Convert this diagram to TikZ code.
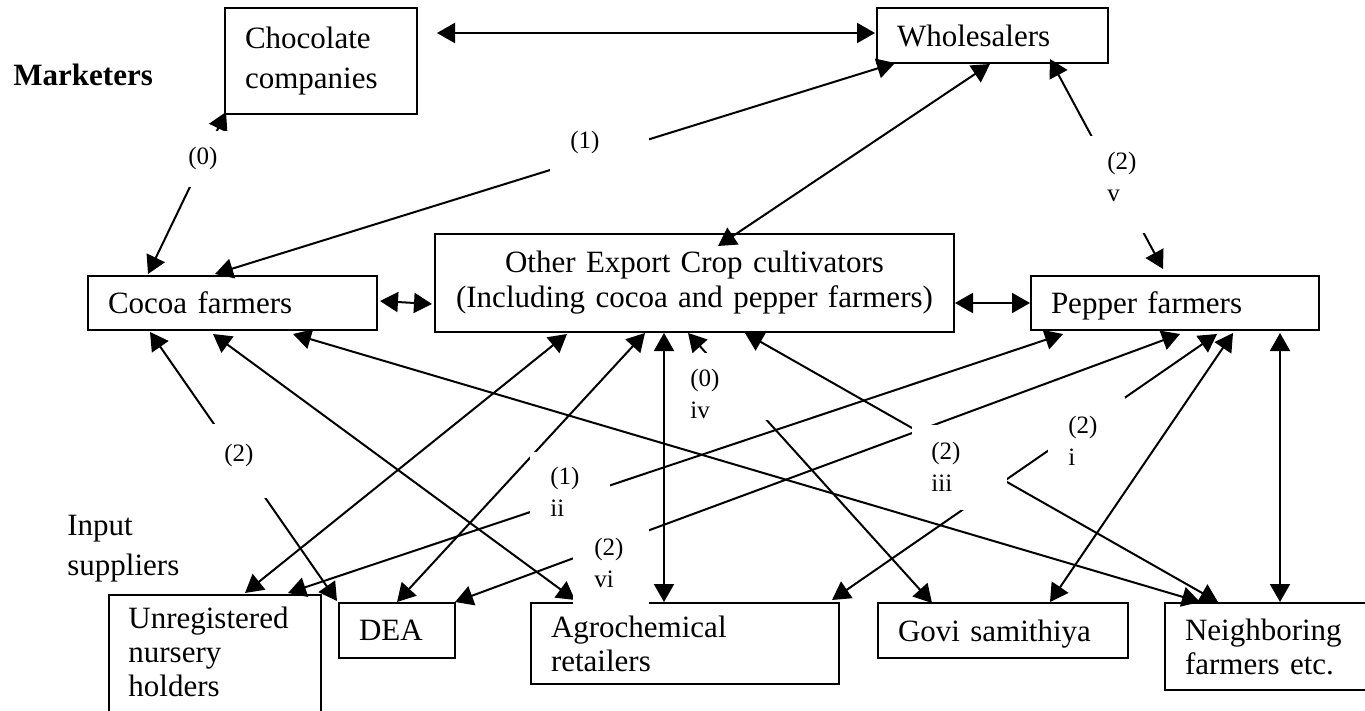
\documentclass[tikz,border=0pt]{standalone}
\usepackage{fontspec}
\setmainfont{Liberation Serif}
\usetikzlibrary{arrows.meta,calc}
\newcommand\mainfnt{\fontsize{15.5}{17}\selectfont}
\newcommand\lblfnt{\fontsize{12.5}{16}\selectfont}
\begin{document}
\begin{tikzpicture}[x=0.5pt,y=-0.5pt,
  box/.style={draw,line width=1pt,anchor=north west,inner xsep=10pt,inner ysep=0pt,align=left,font=\mainfnt},
  conn/.style={line width=1pt,{Triangle[length=9pt,width=10pt]}-{Triangle[length=9pt,width=10pt]}},
  lbl/.style={anchor=base west,align=left,inner sep=0pt,font=\lblfnt},
  grp/.style={anchor=base west,align=left,inner sep=0pt},
  mask/.style={fill=white}]
\useasboundingbox[fill=white] (0,0) rectangle (1365,711);

% boxes
\node[box,text width=76pt,minimum height=53pt,font=\fontsize{15.5}{19.75}\selectfont] (choc) at (224,7) {Chocolate\\companies};
\node[box,text width=95.5pt,minimum height=27.5pt] (whole) at (876,7) {Wholesalers};
\node[box,text width=124.5pt,minimum height=27pt,text depth=0pt] (cocoa) at (87,275) {Cocoa farmers};
\node[box,text width=250pt,inner xsep=4.75pt,minimum height=49pt,align=center,font=\fontsize{15.5}{17.5}\selectfont] (other) at (434,233) {Other Export Crop cultivators\\(Including cocoa and pepper farmers)};
\node[box,text width=124pt,minimum height=27pt,text depth=0pt] (pepper) at (1030,275) {Pepper farmers};
\node[box,text width=86pt,minimum height=73pt] (unreg) at (108,594) {};
\node[box,text width=38pt,minimum height=27.5pt,text depth=0pt] (dea) at (338,602) {DEA};
\node[box,text width=134pt,minimum height=40.5pt] (agro) at (530,602) {Agrochemical\\retailers};
\node[box,text width=105pt,minimum height=27.5pt,text depth=0pt] (govi) at (877,602) {Govi samithiya};
\node[box,text width=83pt,minimum height=43.5pt] (neigh) at (1164,602) {Neighboring\\farmers etc.};
\node[grp,font=\mainfnt] (unregtxt) at (128,696) {Unregistered\\nursery\\holders};

% group labels
\node[grp,font=\mainfnt\bfseries] (mkt) at (13,86) {Marketers};
\node[grp,font=\fontsize{15.5}{20}\selectfont] (inp) at (67,575) {Input\\suppliers};

% connectors
\draw[conn] ($(choc.north east)+(19,26)$) -- ($(whole.north west)+(-1,26)$);
\draw[conn] ($(cocoa.north west)+(61,-1)$) -- ($(choc.south west)+(2,-3)$);
\draw[conn] ($(cocoa.north west)+(128,-1)$) -- ($(whole.south west)+(19,-1)$);
\draw[conn] ($(whole.south west)+(114,0)$) -- ($(other.north west)+(284,13)$);
\draw[conn] ($(whole.south west)+(174,-5)$) -- ($(pepper.north west)+(133,-6)$);
\draw[conn] ($(cocoa.north east)+(2,26)$) -- ($(other.north west)+(-2,71)$);
\draw[conn] ($(other.north east)+(0,70)$) -- ($(pepper.north west)+(0,28)$);
\draw[conn] ($(cocoa.south west)+(63,1)$) -- ($(dea.north west)+(-1,-1)$);
\draw[conn] ($(cocoa.south west)+(126,3)$) -- ($(agro.north west)+(45,-2)$);
\draw[conn] ($(cocoa.south west)+(206,3)$) -- ($(neigh.north west)+(36,0)$);
\draw[conn] ($(other.south west)+(133,1)$) -- ($(unreg.north west)+(137,-1)$);
\draw[conn] ($(other.south west)+(211,0)$) -- ($(dea.north west)+(59,0)$);
\draw[conn] ($(other.south west)+(230,0)$) -- ($(agro.north west)+(134,0)$);
\draw[conn] ($(other.south west)+(254,0)$) -- ($(govi.north west)+(55,1)$);
\draw[conn] ($(other.south west)+(311,0)$) -- ($(neigh.north west)+(54,0)$);
\draw[conn] ($(pepper.south west)+(33,3)$) -- ($(unreg.north west)+(180,-1)$);
\draw[conn] ($(pepper.south west)+(150,3)$) -- ($(dea.north east)+(-1,0)$);
\draw[conn] ($(pepper.south west)+(187,3)$) -- ($(agro.north east)+(-8,-2)$);
\draw[conn] ($(pepper.south west)+(203,2)$) -- ($(govi.north west)+(173,0)$);
\draw[conn] ($(pepper.south west)+(250,2)$) -- ($(neigh.north west)+(116,0)$);

% text boxes of the labels (white, they hide the lines)
\fill[mask] (170,131) rectangle (240,187);
\fill[mask] (550,122) rectangle (649,175);
\fill[mask] (1080,136) rectangle (1155,233);
\fill[mask] (195,424) rectangle (285,498);
\fill[mask] (680,353) rectangle (768,420);
\fill[mask] (530,452) rectangle (610,525);
\fill[mask] (573,528) rectangle (649,606);
\fill[mask] (912,425) rectangle (1007,510);
\fill[mask] (1048,397) rectangle (1125,470);

% label texts
\node[lbl] (l0) at (188,165) {(0)};
\node[lbl] (l1) at (570,149) {(1)};
\node[lbl] (lv) at (1107,202) {(2)\\v};
\node[lbl] (l2) at (224,461) {(2)};
\node[lbl] (liv) at (690,418) {(0)\\iv};
\node[lbl] (lii) at (550,516) {(1)\\ii};
\node[lbl] (lvi) at (594,587) {(2)\\vi};
\node[lbl] (liii) at (931,491) {(2)\\iii};
\node[lbl] (li) at (1068,465) {(2)\\i};
\end{tikzpicture}
\end{document}
